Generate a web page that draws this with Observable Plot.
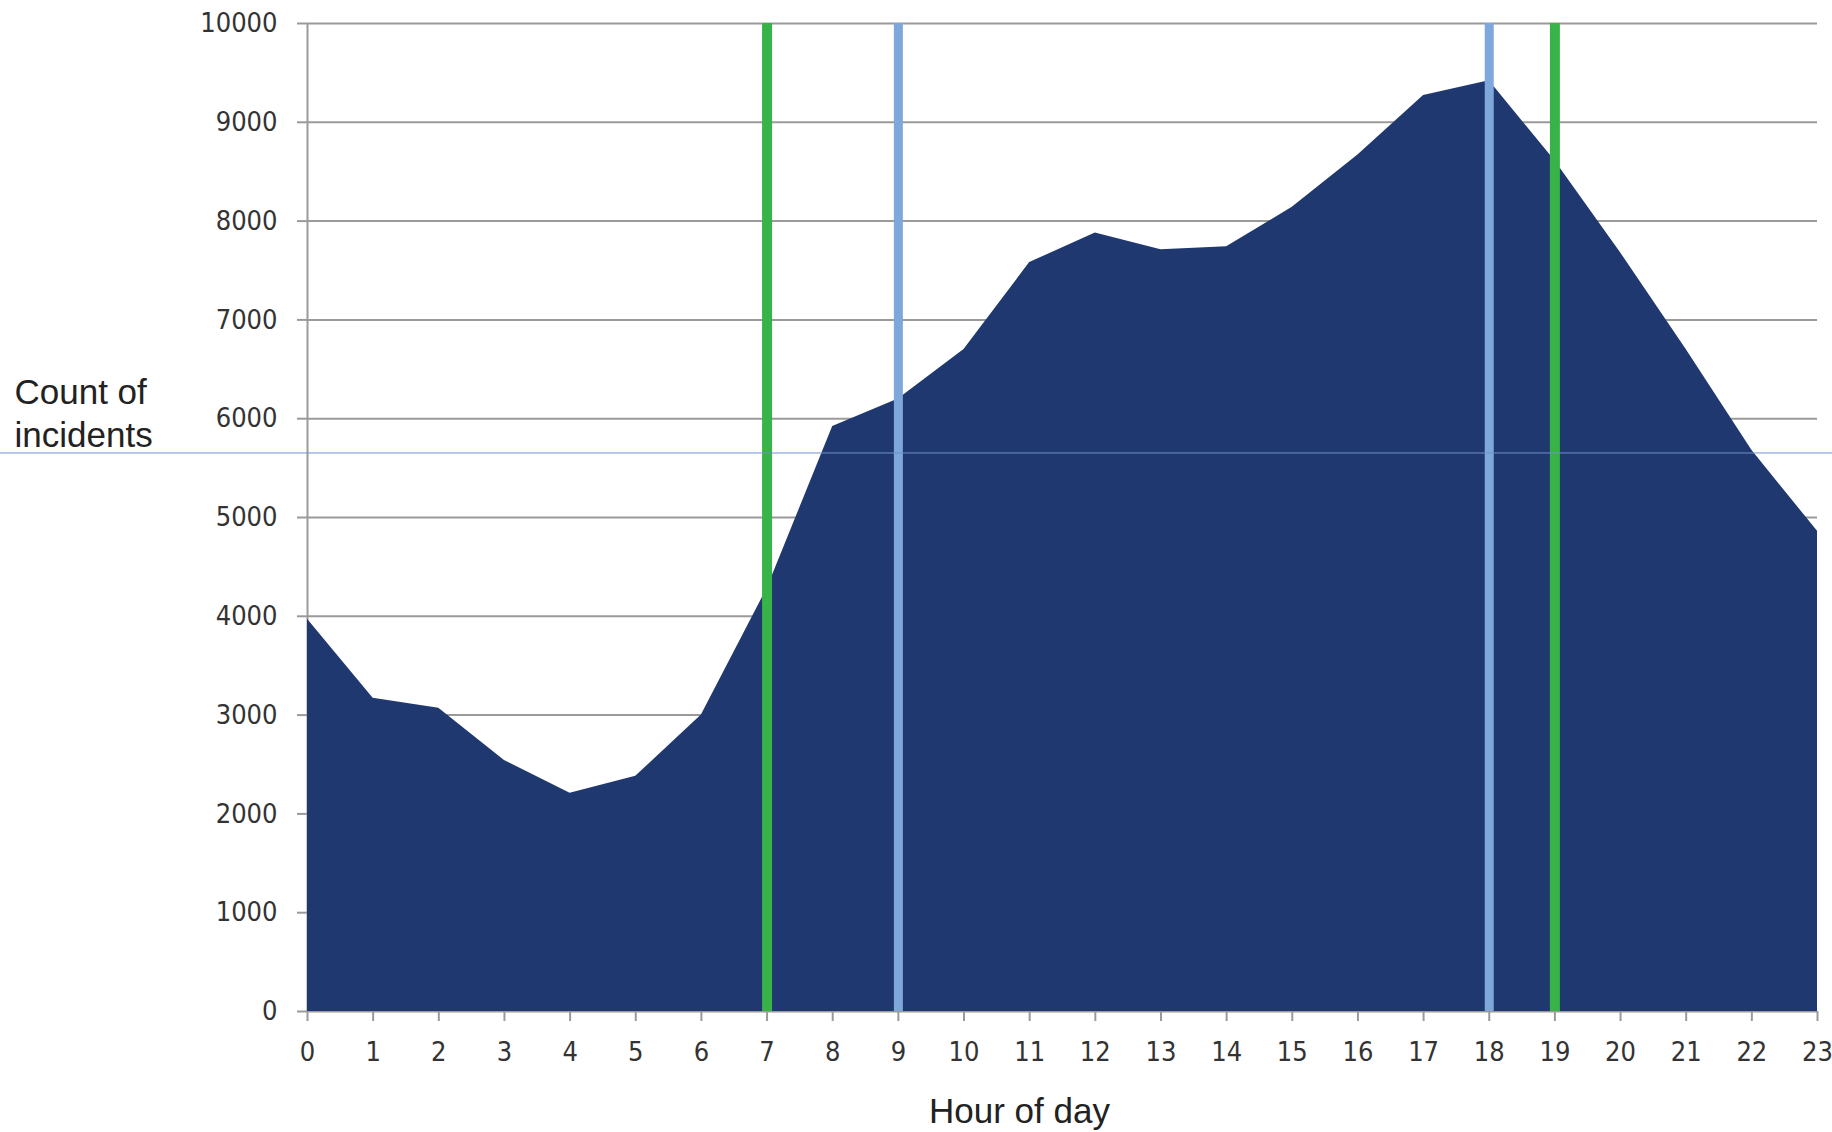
<!DOCTYPE html>
<html>
<head>
<meta charset="utf-8">
<script src="https://cdn.jsdelivr.net/npm/d3@7"></script>
<script src="https://cdn.jsdelivr.net/npm/@observablehq/plot@0.6"></script>
<style>
  html, body { margin: 0; padding: 0; background: #fff; }
  #chart svg { display: block; }
</style>
</head>
<body>
<div id="chart"></div>
<script>
// Data
const hours = [0,1,2,3,4,5,6,7,8,9,10,11,12,13,14,15,16,17,18,19,20,21,22,23];
const counts = [3970,3170,3070,2540,2210,2380,3000,4280,5920,6200,6700,7580,7880,7710,7740,8140,8670,9270,9420,8610,7680,6700,5680,4860];
const yTicks = [0,1000,2000,3000,4000,5000,6000,7000,8000,9000,10000];
const greenHours = [7, 19];
const blueHours = [9, 18];
const artifactLevel = [5653];
const xLabel = "Hour of day";
const yLabel = "Count of\nincidents";

const data = hours.map((h, i) => ({hour: h, count: counts[i]}));
const tickFont = "'DejaVu Sans Condensed', 'DejaVu Sans', sans-serif";

const chart = Plot.plot({
  width: 1832,
  height: 1132,
  marginLeft: 307,
  marginRight: 15,
  marginTop: 23,
  marginBottom: 121,
  x: {domain: [0, 23]},
  y: {domain: [0, 10000]},
  style: {fontFamily: "'Liberation Sans', Arial, sans-serif", color: "#222", background: "#fff"},
  marks: [
    Plot.gridY(yTicks, {stroke: "#9a9a9a", strokeOpacity: 1, strokeWidth: 2}),
    Plot.ruleX([0], {stroke: "#9a9a9a", strokeWidth: 2}),
    Plot.areaY(data, {x: "hour", y: "count", fill: "#1f3870"}),
    Plot.ruleX(greenHours, {y1: 0, y2: 10000, stroke: "#37b347", strokeWidth: 10}),
    Plot.ruleX(blueHours, {y1: 0, y2: 10000, stroke: "#7ea8db", strokeWidth: 9}),
    Plot.axisY(yTicks, {
      tickSize: 10, tickPadding: 20, stroke: "#9a9a9a", strokeWidth: 2,
      fontSize: 27, fontFamily: tickFont,
      fill: "#333", label: null, tickFormat: d => String(d)
    }),
    Plot.axisX(hours, {
      tickSize: 10, tickPadding: 20, stroke: "#9a9a9a", strokeWidth: 2,
      fontSize: 27, fontFamily: tickFont,
      fill: "#333", label: null, tickFormat: d => String(d)
    }),
    Plot.ruleY(artifactLevel, {stroke: "#6f94c8", strokeWidth: 1, insetLeft: -307, insetRight: -15}),
    Plot.text([xLabel], {frameAnchor: "bottom", dx: -43, dy: 100, lineAnchor: "middle", fontSize: 35, fill: "#222"}),
    Plot.text([yLabel], {frameAnchor: "left", textAnchor: "start", dx: -293, dy: -106, lineAnchor: "middle", lineHeight: 1.23, fontSize: 35, fill: "#222"})
  ]
});
document.getElementById("chart").appendChild(chart);
</script>
</body>
</html>
